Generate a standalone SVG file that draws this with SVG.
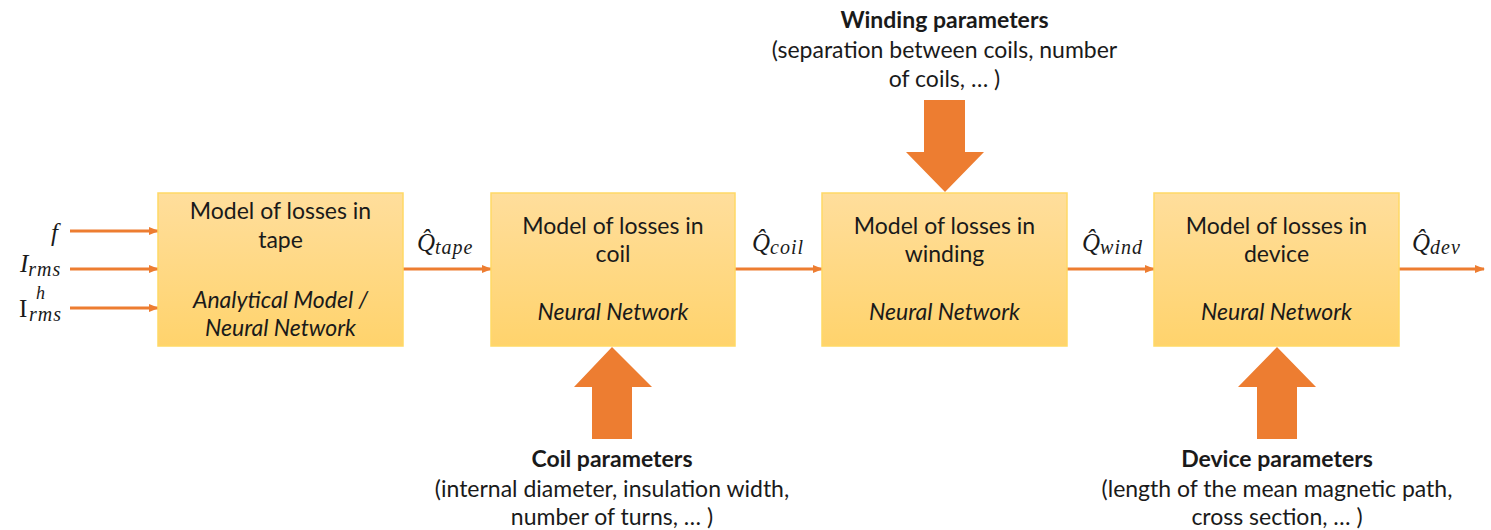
<svg xmlns="http://www.w3.org/2000/svg" width="1491" height="530" viewBox="0 0 1491 530">
<defs>
<linearGradient id="boxg" x1="0" y1="0" x2="0" y2="1">
<stop offset="0" stop-color="#FFDE9C"/>
<stop offset="1" stop-color="#FFD36C"/>
</linearGradient>
<marker id="ah" markerWidth="10" markerHeight="10" refX="9" refY="4" orient="auto" markerUnits="userSpaceOnUse">
<path d="M0,0 L10,4 L0,8 Z" fill="#ED7D31"/>
</marker>
<style>
.box{fill:url(#boxg);stroke:#FFD966;stroke-width:1.5}
.t{font-family:Lato,"Open Sans",sans-serif;font-size:23px;fill:#1a1a1a;text-anchor:middle}
.it{font-style:italic}
.b{font-weight:bold}
.ln{stroke:#ED7D31;stroke-width:3;fill:none;marker-end:url(#ah)}
.big{fill:#ED7D31}
.m{font-family:"Liberation Serif","DejaVu Serif",serif;font-size:25px;font-style:italic;fill:#1a1a1a}
.ms{font-size:20px;letter-spacing:1px}
</style>
</defs>
<g id="connectors">
<line class="ln" x1="70" y1="231" x2="158" y2="231"/>
<line class="ln" x1="70" y1="269" x2="158" y2="269"/>
<line class="ln" x1="70" y1="308" x2="158" y2="308"/>
<line class="ln" x1="403" y1="269" x2="491" y2="269"/>
<line class="ln" x1="735" y1="269" x2="822" y2="269"/>
<line class="ln" x1="1067" y1="269" x2="1154" y2="269"/>
<line class="ln" x1="1399" y1="269" x2="1484" y2="269"/>
<path class="big" d="M924,100 H965 V152 H984 L945,192 L906,152 H924 Z"/>
<path class="big" d="M592,439 H632 V387 H652 L612,347 L574,387 H592 Z"/>
<path class="big" d="M1257,439 H1297 V387 H1316 L1277,347 L1238,387 H1257 Z"/>
</g>
<g id="inputs">
<text class="m" x="51" y="241">f</text>
<text class="m" x="20" y="272">I<tspan class="ms" dy="4">rms</tspan></text>
<text class="m" x="19" y="317"><tspan style="font-style:normal">I</tspan><tspan class="ms" x="29" y="321">rms</tspan></text>
<text class="m" x="36" y="299" style="font-size:18px">h</text>
</g>
<g id="node-tape">
<rect class="box" x="158" y="193" width="245" height="153"/>
<text class="t" x="280.5" y="219">Model of losses in</text>
<text class="t" x="280.5" y="248">tape</text>
<text class="t it" x="280.5" y="308">Analytical Model /</text>
<text class="t it" x="280.5" y="336">Neural Network</text>
</g>
<g id="node-coil">
<rect class="box" x="491" y="193" width="244" height="153"/>
<text class="t" x="613" y="234">Model of losses in</text>
<text class="t" x="613" y="262">coil</text>
<text class="t it" x="613" y="320">Neural Network</text>
</g>
<g id="node-winding">
<rect class="box" x="822" y="193" width="245" height="153"/>
<text class="t" x="944.5" y="234">Model of losses in</text>
<text class="t" x="944.5" y="262">winding</text>
<text class="t it" x="944.5" y="320">Neural Network</text>
</g>
<g id="node-device">
<rect class="box" x="1154" y="193" width="245" height="153"/>
<text class="t" x="1276.5" y="234">Model of losses in</text>
<text class="t" x="1276.5" y="262">device</text>
<text class="t it" x="1276.5" y="320">Neural Network</text>
</g>
<g id="labels-q">
<text class="m" x="417" y="251">Q̂<tspan class="ms" dy="3">tape</tspan></text>
<text class="m" x="752" y="251">Q̂<tspan class="ms" dy="3">coil</tspan></text>
<text class="m" x="1082" y="251">Q̂<tspan class="ms" dy="3">wind</tspan></text>
<text class="m" x="1412" y="251">Q̂<tspan class="ms" dy="3">dev</tspan></text>
</g>
<g id="winding-params">
<text class="t b" x="944.5" y="28">Winding parameters</text>
<text class="t" x="944.5" y="58">(separation between coils, number</text>
<text class="t" x="944.5" y="87">of coils, … )</text>
</g>
<g id="coil-params">
<text class="t b" x="612" y="467">Coil parameters</text>
<text class="t" x="612" y="497">(internal diameter, insulation width,</text>
<text class="t" x="612" y="525">number of turns, … )</text>
</g>
<g id="device-params">
<text class="t b" x="1277" y="467">Device parameters</text>
<text class="t" x="1277" y="497">(length of the mean magnetic path,</text>
<text class="t" x="1277" y="525">cross section, … )</text>
</g>
</svg>
